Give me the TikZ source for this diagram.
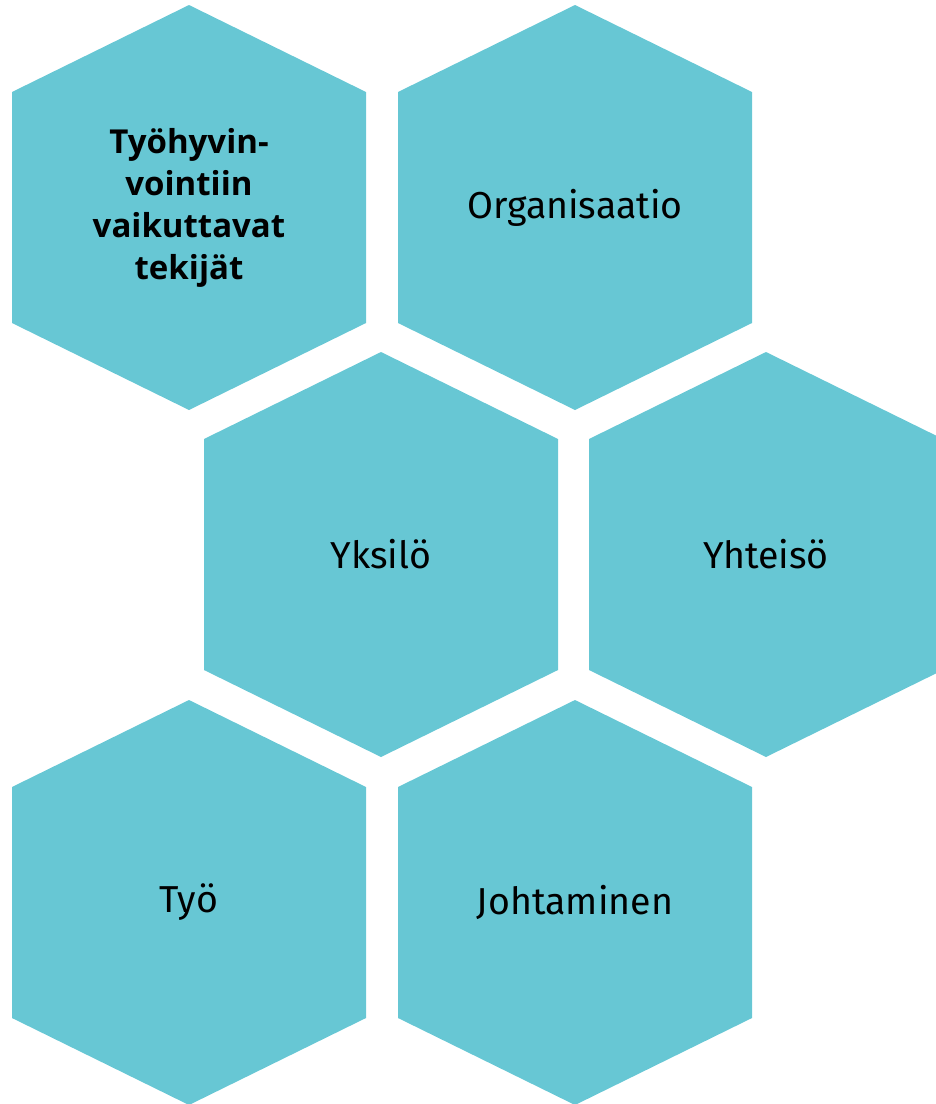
\documentclass[tikz,border=0pt]{standalone}
\usepackage{fontspec}
\setmainfont{Fira Sans}
\newfontfamily\titlefont{Open Sans}
\definecolor{hexcol}{HTML}{67C7D4}
\tikzset{
  hexfill/.style={fill=hexcol},
  lbl/.style={font=\fontsize{37.5}{44}\selectfont, text=black, align=center},
  ttl/.style={font=\titlefont\bfseries\fontsize{33}{42}\selectfont, text=black, align=center},
}
\newcommand\hexat[2]{\fill[hexfill] (#1,#2) ++(0,-202.5) -- ++(177,87) -- ++(0,231) -- ++(-177,87) -- ++(-177,-87) -- ++(0,-231) -- cycle;}
\begin{document}
\begin{tikzpicture}[x=1pt,y=-1pt]
\useasboundingbox (0,0) rectangle (936,1104);
\clip (0,0) rectangle (936,1104);
\hexat{189}{207.5}
\hexat{575}{207.5}
\hexat{381}{554.5}
\hexat{766}{554.5}
\hexat{189}{902.5}
\hexat{575}{902.5}
\node[ttl] (title) at (189,207.5) {Työhyvin-\\vointiin\\vaikuttavat\\tekijät};
\node[lbl] (org) at (575,207.5) {Organisaatio};
\node[lbl] (yks) at (381,554.5) {Yksilö};
\node[lbl] (yht) at (766,554.5) {Yhteisö};
\node[lbl] (tyo) at (189,902.5) {Työ};
\node[lbl] (joh) at (575,902.5) {Johtaminen};
\end{tikzpicture}
\end{document}
